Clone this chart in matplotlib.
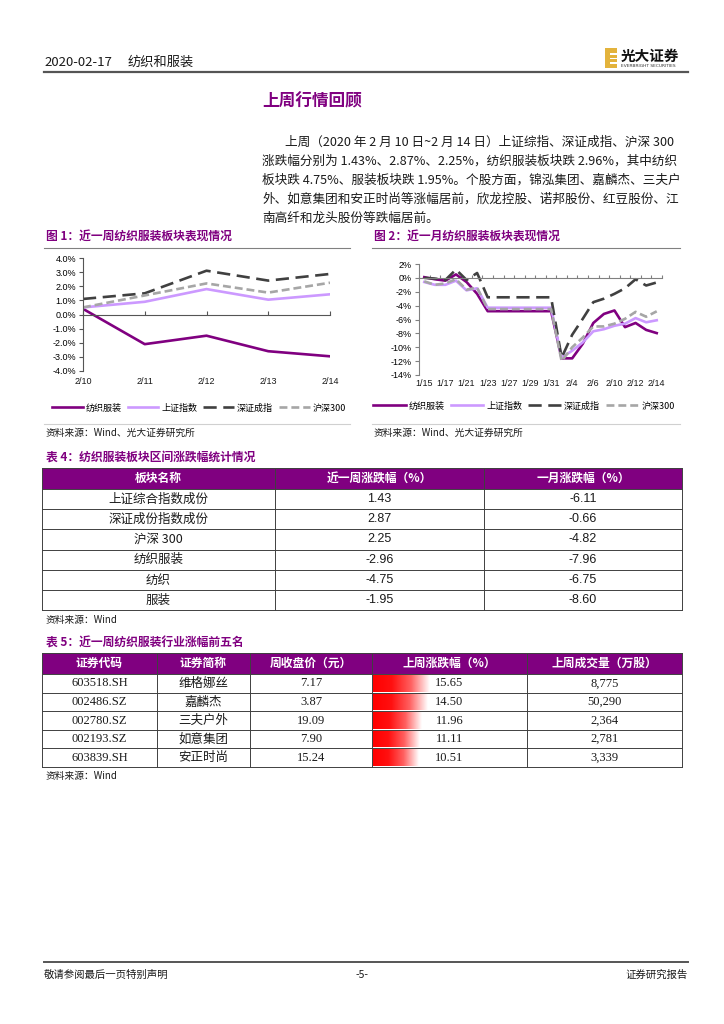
import matplotlib
matplotlib.use('Agg')
import matplotlib.pyplot as plt
import numpy as np
from matplotlib.patches import Rectangle
from matplotlib.colors import LinearSegmentedColormap
import matplotlib.transforms as mtrans

plt.rcParams['font.family'] = ['Noto Sans CJK SC', 'DejaVu Sans']

# ---------------- data ----------------
week_dates = ['2/10', '2/11', '2/12', '2/13', '2/14']
week_fzfz = [0.40, -2.10, -1.50, -2.60, -2.96]
week_sh = [0.50, 0.90, 1.80, 1.05, 1.43]
week_sz = [1.10, 1.50, 3.10, 2.40, 2.87]
week_hs = [0.50, 1.35, 2.20, 1.55, 2.25]

month_dates = ['1/15', '1/16', '1/17', '1/20', '1/21', '1/22', '1/23', '1/24',
               '1/27', '1/28', '1/29', '1/30', '1/31', '2/3', '2/4', '2/5',
               '2/6', '2/7', '2/10', '2/11', '2/12', '2/13', '2/14']
month_fzfz = [0.1, -0.2, -0.4, 0.5, -0.6, -2.3, -4.8, -4.8, -4.8, -4.8, -4.8, -4.8,
              -4.8, -11.6, -11.6, -9.5, -6.5, -5.2, -4.7, -7.1, -6.5, -7.5, -7.96]
month_sh = [-0.6, -1.0, -1.0, -0.4, -1.8, -1.5, -4.3, -4.3, -4.3, -4.3, -4.3, -4.3,
            -4.3, -11.5, -10.5, -9.3, -7.7, -7.4, -6.9, -6.6, -5.8, -6.4, -6.11]
month_sz = [0.0, -0.1, -0.3, 1.2, -0.3, 0.7, -2.8, -2.8, -2.8, -2.8, -2.8, -2.8,
            -2.8, -11.5, -8.2, -5.9, -3.5, -3.0, -2.3, -1.5, -0.2, -1.1, -0.66]
month_hs = [-0.5, -1.0, -0.8, -0.2, -1.7, -1.4, -4.5, -4.5, -4.5, -4.5, -4.5, -4.5,
            -4.5, -12.0, -10.0, -8.6, -7.0, -7.0, -6.6, -5.9, -4.9, -5.6, -4.82]

series_names = ['纺织服装', '上证指数', '深证成指', '沪深300']

t4_header = ['板块名称', '近一周涨跌幅（%）', '一月涨跌幅（%）']
t4_names = ['上证综合指数成份', '深证成份指数成份', '沪深 300', '纺织服装', '纺织', '服装']
t4_week = [1.43, 2.87, 2.25, -2.96, -4.75, -1.95]
t4_month = [-6.11, -0.66, -4.82, -7.96, -6.75, -8.60]

t5_header = ['证券代码', '证券简称', '周收盘价（元）', '上周涨跌幅（%）', '上周成交量（万股）']
t5_codes = ['603518.SH', '002486.SZ', '002780.SZ', '002193.SZ', '603839.SH']
t5_names = ['维格娜丝', '嘉麟杰', '三夫户外', '如意集团', '安正时尚']
t5_close = [7.17, 3.87, 19.09, 7.90, 15.24]
t5_chg = [15.65, 14.50, 11.96, 11.11, 10.51]
t5_vol = [8775, 50290, 2364, 2781, 3339]

para_lines = [
    '上周（2020 年 2 月 10 日~2 月 14 日）上证综指、深证成指、沪深 300',
    '涨跌幅分别为 1.43%、2.87%、2.25%，纺织服装板块跌 2.96%，其中纺织',
    '板块跌 4.75%、服装板块跌 1.95%。个股方面，锦泓集团、嘉麟杰、三夫户',
    '外、如意集团和安正时尚等涨幅居前，欣龙控股、诺邦股份、红豆股份、江',
    '南高纤和龙头股份等跌幅居前。',
]

# ---------------- styles ----------------
PURPLE = '#800080'
C_FZ = '#800080'
C_SH = '#CC99FF'
C_SZ = '#404040'
C_HS = '#A6A6A6'
TXT = '#1a1a1a'

W, H = 724, 1024
fig = plt.figure(figsize=(7.24, 10.24), dpi=100)
ov = fig.add_axes([0, 0, 1, 1])
ov.set_xlim(0, W)
ov.set_ylim(H, 0)
ov.axis('off')


def ax_at(x0, y0, x1, y1):
    a = fig.add_axes([x0 / W, 1 - y1 / H, (x1 - x0) / W, (y1 - y0) / H])
    a.set_facecolor('none')
    return a


# ---------------- header ----------------
ov.text(44, 62, '2020-02-17', fontsize=9.5, color=TXT, va='center', ha='left')
ov.text(128, 62, '纺织和服装', fontsize=9.5, color=TXT, va='center', ha='left')
ov.plot([44, 688], [72, 72], color='#555555', lw=1.6)
# logo
ov.add_patch(Rectangle((605, 48), 12, 20, color='#E3B33C', lw=0))
for yy in [53, 57.5, 62]:
    ov.add_patch(Rectangle((610, yy), 7, 1.6, color='white', lw=0))
ov.text(621, 56, '光大证券', fontsize=10.5, fontweight='bold', color='#111111', va='center', ha='left')
ov.text(621, 66, 'EVERBRIGHT SECURITIES', fontsize=3.2, color='#333333', va='center', ha='left',
        family=['DejaVu Sans'])

ov.text(262, 101, '上周行情回顾', fontsize=12, fontweight='bold', color=PURPLE, va='center', ha='left')

for i, line in enumerate(para_lines):
    x = 285 if i == 0 else 262
    ov.text(x, 142 + i * 19, line, fontsize=9.1, color=TXT, va='center', ha='left')

# ---------------- chart titles ----------------
ov.text(46, 237, '图 1：近一周纺织服装板块表现情况', fontsize=8.5, fontweight='bold', color=PURPLE,
        va='center', ha='left')
ov.text(374, 237, '图 2：近一月纺织服装板块表现情况', fontsize=8.5, fontweight='bold', color=PURPLE,
        va='center', ha='left')
ov.plot([44, 350], [248, 248], color='#808080', lw=0.8)
ov.plot([372, 680], [248, 248], color='#808080', lw=0.8)
ov.plot([44, 350], [424, 424], color='#d0d0d0', lw=0.8)
ov.plot([372, 680], [424, 424], color='#d0d0d0', lw=0.8)
ov.text(46, 433, '资料来源：Wind、光大证券研究所', fontsize=7, color=TXT, va='center', ha='left')
ov.text(374, 433, '资料来源：Wind、光大证券研究所', fontsize=7, color=TXT, va='center', ha='left')

line_styles = [
    dict(color=C_FZ, lw=1.9, ls='-'),
    dict(color=C_SH, lw=1.9, ls='-'),
    dict(color=C_SZ, lw=1.9, ls=(0, (5, 2.5))),
    dict(color=C_HS, lw=1.9, ls=(0, (3, 1.5))),
]

# ---------------- chart 1 ----------------
ax1 = ax_at(83, 258, 330, 371)
xw = np.arange(len(week_dates))
for vals, st, nm in zip([week_fzfz, week_sh, week_sz, week_hs], line_styles, series_names):
    ax1.plot(xw, vals, label=nm, **st)
ax1.set_xlim(0, len(week_dates) - 1)
ax1.set_ylim(-4, 4)
ax1.set_yticks(np.arange(-4, 5, 1))
ax1.set_yticklabels([f'{v:.1f}%' for v in np.arange(-4, 5, 1)], fontsize=6.5,
                    family=['Liberation Sans', 'DejaVu Sans'])
ax1.spines['top'].set_visible(False)
ax1.spines['right'].set_visible(False)
ax1.spines['bottom'].set_position(('data', 0))
for s in ['left', 'bottom']:
    ax1.spines[s].set_color('#555555')
    ax1.spines[s].set_linewidth(0.8)
ax1.set_xticks(xw)
ax1.set_xticklabels([])
ax1.tick_params(axis='x', direction='in', length=3, color='#555555')
ax1.tick_params(axis='y', direction='out', length=3, color='#555555', pad=2)
tr1 = mtrans.blended_transform_factory(ax1.transData, ax1.transAxes)
for i, d in enumerate(week_dates):
    ax1.text(i, -0.09, d, transform=tr1, fontsize=6.5, ha='center', va='center',
             family=['Liberation Sans', 'DejaVu Sans'], color=TXT)
ax1.legend(loc='center', bbox_to_anchor=(199 / W, 1 - 408 / H), bbox_transform=fig.transFigure,
           ncol=4, frameon=False, fontsize=6.5, handlelength=3.4, columnspacing=0.7,
           handletextpad=0.3)

# ---------------- chart 2 ----------------
ax2 = ax_at(419, 264, 662, 375)
xm = np.arange(len(month_dates))
for vals, st, nm in zip([month_fzfz, month_sh, month_sz, month_hs], line_styles, series_names):
    ax2.plot(xm, vals, label=nm, **st)
ax2.set_xlim(-0.5, len(month_dates) - 0.5)
ax2.set_ylim(-14, 2)
ax2.set_yticks(np.arange(-14, 3, 2))
ax2.set_yticklabels([f'{v}%' for v in np.arange(-14, 3, 2)], fontsize=6.5,
                    family=['Liberation Sans', 'DejaVu Sans'])
ax2.spines['top'].set_visible(False)
ax2.spines['right'].set_visible(False)
ax2.spines['bottom'].set_position(('data', 0))
for s in ['left', 'bottom']:
    ax2.spines[s].set_color('#808080')
    ax2.spines[s].set_linewidth(0.8)
ax2.set_xticks(np.arange(-0.5, len(month_dates), 1))
ax2.set_xticklabels([])
ax2.tick_params(axis='x', direction='in', length=2.5, color='#808080')
ax2.tick_params(axis='y', direction='out', length=3, color='#808080', pad=2)
tr2 = mtrans.blended_transform_factory(ax2.transData, ax2.transAxes)
for i, d in enumerate(month_dates):
    if i % 2 == 0:
        ax2.text(i, -0.08, d, transform=tr2, fontsize=6.5, ha='center', va='center',
                 family=['Liberation Sans', 'DejaVu Sans'], color=TXT)
ax2.legend(loc='center', bbox_to_anchor=(524 / W, 1 - 406 / H), bbox_transform=fig.transFigure,
           ncol=4, frameon=False, fontsize=6.5, handlelength=3.6, columnspacing=0.7,
           handletextpad=0.3)

# ---------------- table 4 ----------------
ov.text(46, 457, '表 4：纺织服装板块区间涨跌幅统计情况', fontsize=8.5, fontweight='bold', color=PURPLE,
        va='center', ha='left')
c4 = [42, 275, 484, 682]
h_top, h_bot = 468, 489
rh4 = 20.2
ov.add_patch(Rectangle((c4[0], h_top), c4[-1] - c4[0], h_bot - h_top, color=PURPLE, lw=0))
for j, t in enumerate(t4_header):
    ov.text((c4[j] + c4[j + 1]) / 2, (h_top + h_bot) / 2, t, fontsize=8.5, fontweight='bold',
            color='white', ha='center', va='center')
num_font = ['Liberation Sans', 'Noto Sans CJK SC']
for i in range(len(t4_names)):
    yc = h_bot + rh4 * (i + 0.5)
    ov.text((c4[0] + c4[1]) / 2, yc, t4_names[i], fontsize=9, color=TXT, ha='center', va='center')
    ov.text((c4[1] + c4[2]) / 2, yc, f'{t4_week[i]:.2f}', fontsize=9, color=TXT, ha='center',
            va='center', family=num_font)
    ov.text((c4[2] + c4[3]) / 2, yc, f'{t4_month[i]:.2f}', fontsize=9, color=TXT, ha='center',
            va='center', family=num_font)
t4_bottom = h_bot + rh4 * len(t4_names)
for i in range(len(t4_names) + 1):
    yy = h_bot + rh4 * i
    ov.plot([c4[0], c4[-1]], [yy, yy], color='#404040', lw=0.7)
ov.plot([c4[0], c4[-1]], [h_top, h_top], color='#404040', lw=0.7)
for xx in c4:
    ov.plot([xx, xx], [h_top, t4_bottom], color='#404040', lw=0.7)
ov.text(46, 620, '资料来源：Wind', fontsize=7, color=TXT, va='center', ha='left')

# ---------------- table 5 ----------------
ov.text(46, 643, '表 5：近一周纺织服装行业涨幅前五名', fontsize=8.5, fontweight='bold', color=PURPLE,
        va='center', ha='left')
c5 = [42, 157, 250, 372, 527, 682]
h5_top, h5_bot = 653, 674
rh5 = 18.6
ov.add_patch(Rectangle((c5[0], h5_top), c5[-1] - c5[0], h5_bot - h5_top, color=PURPLE, lw=0))
for j, t in enumerate(t5_header):
    ov.text((c5[j] + c5[j + 1]) / 2, (h5_top + h5_bot) / 2, t, fontsize=8.5, fontweight='bold',
            color='white', ha='center', va='center')
bar_cmap = LinearSegmentedColormap.from_list('rb', ['#FF0000', '#FF1010', '#FF6060', '#FFFFFF'])
grad = np.linspace(0, 1, 256).reshape(1, -1)
serif = ['Liberation Serif', 'Noto Sans CJK SC']
cell_w = c5[4] - c5[3]
for i in range(len(t5_codes)):
    y0 = h5_bot + rh5 * i
    yc = y0 + rh5 / 2
    # data bar (length scaled from the value)
    blen = cell_w * (0.135 + 0.0148 * t5_chg[i])
    ov.imshow(grad, cmap=bar_cmap, extent=(c5[3] + 1, c5[3] + 1 + blen, y0 + rh5 - 1, y0 + 1),
              aspect='auto', interpolation='bilinear', zorder=1)
    ov.text((c5[0] + c5[1]) / 2, yc, t5_codes[i], fontsize=9, color=TXT, ha='center', va='center',
            family=serif, zorder=3)
    ov.text((c5[1] + c5[2]) / 2, yc, t5_names[i], fontsize=9, color=TXT, ha='center', va='center',
            zorder=3)
    ov.text((c5[2] + c5[3]) / 2, yc, f'{t5_close[i]:.2f}', fontsize=9, color=TXT, ha='center',
            va='center', family=serif, zorder=3)
    ov.text((c5[3] + c5[4]) / 2, yc, f'{t5_chg[i]:.2f}', fontsize=9, color=TXT, ha='center',
            va='center', family=serif, zorder=3)
    ov.text((c5[4] + c5[5]) / 2, yc, f'{t5_vol[i]:,}', fontsize=9, color=TXT, ha='center',
            va='center', family=serif, zorder=3)
t5_bottom = h5_bot + rh5 * len(t5_codes)
for i in range(len(t5_codes) + 1):
    yy = h5_bot + rh5 * i
    ov.plot([c5[0], c5[-1]], [yy, yy], color='#404040', lw=0.7, zorder=2)
ov.plot([c5[0], c5[-1]], [h5_top, h5_top], color='#404040', lw=0.7, zorder=2)
for xx in c5:
    ov.plot([xx, xx], [h5_top, t5_bottom], color='#404040', lw=0.7, zorder=2)
ov.text(46, 776, '资料来源：Wind', fontsize=7, color=TXT, va='center', ha='left')

# ---------------- footer ----------------
ov.plot([44, 688], [962, 962], color='#555555', lw=1.4)
ov.text(44, 975, '敬请参阅最后一页特别声明', fontsize=7.5, color=TXT, va='center', ha='left')
ov.text(362, 975, '-5-', fontsize=7.5, color=TXT, va='center', ha='center')
ov.text(688, 975, '证券研究报告', fontsize=7.5, color=TXT, va='center', ha='right')

ov.set_xlim(0, W)
ov.set_ylim(H, 0)

fig.savefig('out.png', dpi=100)
